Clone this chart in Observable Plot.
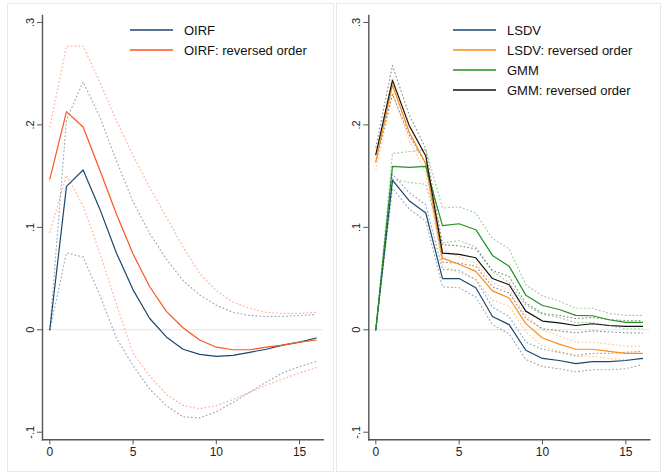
<!DOCTYPE html>
<html><head><meta charset="utf-8">
<script src="https://cdn.jsdelivr.net/npm/d3@7"></script>
<script src="https://cdn.jsdelivr.net/npm/@observablehq/plot@0.6"></script>
<style>
body{margin:0;background:#fff;font-family:"Liberation Sans",Arial,Helvetica,sans-serif;}
#wrap{position:relative;width:670px;height:472px;overflow:hidden;background:#fff;}
.panel{position:absolute;border:1px solid #e2eaec;box-sizing:border-box;background:#fff;}
.chart{position:absolute;top:0;}
.legend{position:absolute;font-size:13px;color:#111;}
.legend .row{position:absolute;left:0;white-space:nowrap;display:flex;align-items:center;height:20px;}
.legend .row span{margin-left:11px;}
</style></head><body><div id="wrap"></div>
<script>
// ---- data ----
const steps = [0,1,2,3,4,5,6,7,8,9,10,11,12,13,14,15,16];
const xTicks = [0,5,10,15];
const yTicks = [-0.1,0,0.1,0.2,0.3];
const yTickLabels = ["-.1","0",".1",".2",".3"];

// Left panel
const oirf      = [0,0.140,0.156,0.118,0.075,0.039,0.011,-0.007,-0.019,-0.024,-0.026,-0.025,-0.022,-0.019,-0.015,-0.012,-0.008];
const oirfHi    = [0,0.205,0.242,0.208,0.165,0.125,0.094,0.069,0.048,0.034,0.024,0.017,0.014,0.013,0.013,0.014,0.015];
const oirfLo    = [0,0.075,0.071,0.034,-0.008,-0.035,-0.058,-0.074,-0.085,-0.086,-0.080,-0.071,-0.061,-0.051,-0.042,-0.036,-0.031];
const oirfR     = [0.147,0.213,0.198,0.156,0.113,0.074,0.042,0.018,0.002,-0.010,-0.017,-0.0195,-0.0195,-0.017,-0.015,-0.012,-0.010];
const oirfRHi   = [0.198,0.277,0.277,0.242,0.204,0.170,0.139,0.110,0.081,0.055,0.038,0.027,0.021,0.017,0.016,0.016,0.017];
const oirfRLo   = [0.095,0.151,0.121,0.075,0.025,-0.023,-0.045,-0.063,-0.074,-0.077,-0.074,-0.068,-0.061,-0.054,-0.048,-0.042,-0.037];

// Right panel
const lsdv      = [0,0.146,0.126,0.114,0.050,0.050,0.041,0.013,0.005,-0.020,-0.028,-0.030,-0.033,-0.031,-0.031,-0.030,-0.028];
const lsdvHi    = [0,0.152,0.134,0.122,0.059,0.058,0.049,0.022,0.013,-0.012,-0.019,-0.022,-0.025,-0.023,-0.023,-0.022,-0.021];
const lsdvLo    = [0,0.138,0.118,0.106,0.042,0.041,0.032,0.005,-0.004,-0.029,-0.036,-0.038,-0.041,-0.039,-0.039,-0.038,-0.034];
const lsdvR     = [0.164,0.239,0.193,0.162,0.070,0.064,0.057,0.038,0.031,0.006,-0.008,-0.014,-0.019,-0.019,-0.021,-0.023,-0.023];
const lsdvRHi   = [0.171,0.246,0.201,0.170,0.078,0.071,0.065,0.046,0.039,0.014,0.000,-0.006,-0.012,-0.012,-0.014,-0.016,-0.016];
const lsdvRLo   = [0.156,0.231,0.185,0.154,0.062,0.056,0.049,0.029,0.023,-0.002,-0.016,-0.021,-0.026,-0.026,-0.028,-0.029,-0.029];
const gmm       = [0,0.1595,0.1585,0.1595,0.1016,0.1035,0.0977,0.0726,0.0621,0.0338,0.0237,0.0198,0.014,0.0137,0.0098,0.0072,0.0072];
const gmmHi     = [0,0.172,0.174,0.176,0.119,0.120,0.114,0.089,0.079,0.044,0.033,0.028,0.021,0.021,0.016,0.014,0.014];
const gmmLo     = [0,0.147,0.144,0.142,0.085,0.087,0.081,0.057,0.046,0.024,0.015,0.012,0.007,0.007,0.004,0.001,0.001];
const gmmR      = [0.171,0.2435,0.1995,0.1696,0.0748,0.0736,0.0703,0.050,0.044,0.0182,0.0085,0.0068,0.0042,0.0059,0.0042,0.0033,0.0033];
const gmmRHi    = [0.178,0.258,0.210,0.177,0.083,0.082,0.079,0.058,0.052,0.026,0.016,0.014,0.011,0.012,0.010,0.009,0.009];
const gmmRLo    = [0.164,0.230,0.190,0.162,0.066,0.065,0.062,0.042,0.036,0.011,0.001,-0.001,-0.003,-0.001,-0.002,-0.003,-0.003];

const leftSeries = [
  {name:"OIRF", color:"#1a476f", mid:oirf, hi:oirfHi, lo:oirfLo},
  {name:"OIRF: reversed order", color:"#fa5520", mid:oirfR, hi:oirfRHi, lo:oirfRLo}
];
const rightSeries = [
  {name:"LSDV", color:"#1a476f", mid:lsdv, hi:lsdvHi, lo:lsdvLo},
  {name:"LSDV: reversed order", color:"#ff8a14", mid:lsdvR, hi:lsdvRHi, lo:lsdvRLo},
  {name:"GMM", color:"#229122", mid:gmm, hi:gmmHi, lo:gmmLo},
  {name:"GMM: reversed order", color:"#111111", mid:gmmR, hi:gmmRHi, lo:gmmRLo}
];

const font = '"Liberation Sans",Arial,Helvetica,sans-serif';
const yDomain = [-0.1074, 0.3068];

function rowsOf(s){ return steps.map((t,i)=>({step:t, mid:s.mid[i], hi:s.hi[i], lo:s.lo[i]})); }

function panel(series, xDomain, marginLeft, marginRight){
  const marks = [Plot.ruleY([0], {stroke:"#e4e4e4", strokeWidth:1})];
  for (const s of series){
    const rows = rowsOf(s);
    for (const k of ["hi","lo"]){
      marks.push(Plot.line(rows, {x:"step", y:k, stroke:s.color, strokeWidth:1.2, strokeOpacity:0.45, strokeDasharray:"0.8,3"}));
    }
  }
  for (const s of series){
    marks.push(Plot.line(rowsOf(s), {x:"step", y:"mid", stroke:s.color, strokeWidth:1.2}));
  }
  marks.push(
    Plot.axisX({ticks:xTicks, tickSize:5, tickPadding:3, tickFormat:d=>String(d), fontSize:12, stroke:"#555", label:null}),
    Plot.axisY({ticks:yTicks, tickSize:5, tickPadding:4, tickRotate:-90, fontSize:11, stroke:"#555", label:null,
                tickFormat:d=>yTickLabels[yTicks.indexOf(d)]}),
    Plot.frame({anchor:"left", stroke:"#555", strokeWidth:1.4}),
    Plot.frame({anchor:"bottom", stroke:"#555", strokeWidth:1.4})
  );
  return Plot.plot({
    width:335, height:472, marginLeft, marginRight, marginTop:15, marginBottom:32.7,
    x:{domain:xDomain, label:null}, y:{domain:yDomain, label:null},
    style:{fontFamily:font, color:"#222", background:"transparent", overflow:"visible"},
    marks
  });
}

function legend(series, left, top){
  const div = document.createElement("div");
  div.className = "legend";
  div.style.left = left + "px"; div.style.top = top + "px";
  series.forEach((s,i)=>{
    const r = document.createElement("div");
    r.className = "row"; r.style.top = (i*20) + "px";
    r.innerHTML = `<svg width="43" height="4"><line x1="0" x2="43" y1="2" y2="2" stroke="${s.color}" stroke-width="1.3"/></svg><span>${s.name}</span>`;
    div.appendChild(r);
  });
  return div;
}

const wrap = document.getElementById("wrap");
function addPanelBox(l,t,w,h){ const d=document.createElement("div"); d.className="panel"; Object.assign(d.style,{left:l+"px",top:t+"px",width:w+"px",height:h+"px"}); wrap.appendChild(d); }
addPanelBox(7,3,327,469);
addPanelBox(336,3,325,469);

const c1 = panel(leftSeries, [-0.44,16.42], 42, 12.3);
c1.classList.add("chart"); c1.style.left = "0px"; wrap.appendChild(c1);
const c2 = panel(rightSeries, [-0.42,16.44], 33.3, 20.7);
c2.classList.add("chart"); c2.style.left = "335px"; wrap.appendChild(c2);

wrap.appendChild(legend(leftSeries, 130, 20));
wrap.appendChild(legend(rightSeries, 453, 20));
</script></body></html>
